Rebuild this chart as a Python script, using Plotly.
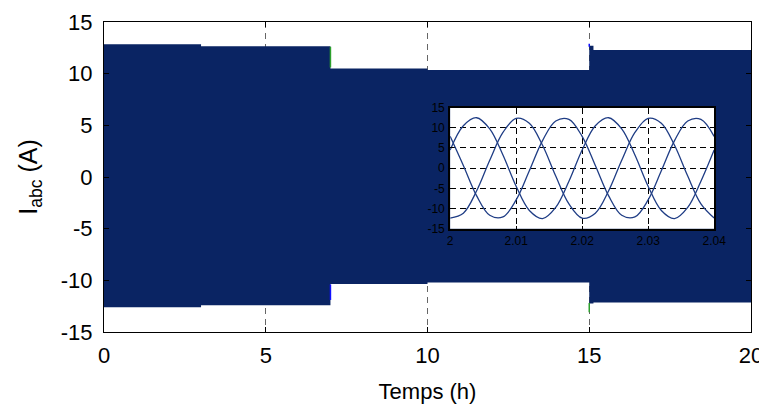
import plotly.graph_objects as go

# ---- main plot: envelope of the three-phase currents (A) per operating segment ----
seg_start = [0, 3, 7, 10, 15, 15.13]
seg_end = [3, 7, 10, 15, 15.13, 20]
env_upper = [12.85, 12.65, 10.5, 10.35, 12.7, 12.3]
env_lower = [-12.6, -12.4, -10.35, -10.2, -12.25, -12.15]

# small transients visible at the switching instants
trans_green_x = [[7, 7], [15, 15]]
trans_green_y = [[12.6, 10.6], [-12.2, -13.1]]
trans_blue_x = [[7, 7], [15, 15]]
trans_blue_y = [[-10.4, -11.9], [12.6, 12.9]]

# ---- inset: three-phase currents between t = 2.00 and 2.04 ----
inset_t = [2.000, 2.002, 2.004, 2.006, 2.008, 2.010, 2.012, 2.014, 2.016, 2.018,
           2.020, 2.022, 2.024, 2.026, 2.028, 2.030, 2.032, 2.034, 2.036, 2.038, 2.040]
phase_a = [-12.35, -11.14, -5.67, 1.96, 8.84, 12.35, 11.14, 5.67, -1.96, -8.84,
           -12.35, -11.14, -5.67, 1.96, 8.84, 12.35, 11.14, 5.67, -1.96, -8.84, -12.35]
phase_b = [7.87, 0.65, -6.81, -11.67, -12.07, -7.87, -0.65, 6.81, 11.67, 12.07,
           7.87, 0.65, -6.81, -11.67, -12.07, -7.87, -0.65, 6.81, 11.67, 12.07, 7.87]
phase_c = [4.48, 10.48, 12.48, 9.71, 3.24, -4.48, -10.48, -12.48, -9.71, -3.24,
           4.48, 10.48, 12.48, 9.71, 3.24, -4.48, -10.48, -12.48, -9.71, -3.24, 4.48]

main_xticks = [0, 5, 10, 15, 20]
main_xticktext = ["0", "5", "10", "15", "20"]
main_yticks = [-15, -10, -5, 0, 5, 10, 15]
main_yticktext = ["-15", "-10", "-5", "0", "5", "10", "15"]
inset_xticks = [2, 2.01, 2.02, 2.03, 2.04]
inset_xticktext = ["2", "2.01", "2.02", "2.03", "2.04"]
inset_yticks = [-15, -10, -5, 0, 5, 10, 15]
inset_yticktext = ["-15", "-10", "-5", "0", "5", "10", "15"]

BAND = "#0a2463"
WAVE = "#1f3d85"

# build the envelope polygon from the segment arrays
poly_x, poly_y = [], []
for s, e, u in zip(seg_start, seg_end, env_upper):
    poly_x += [s, e]
    poly_y += [u, u]
for s, e, l in reversed(list(zip(seg_start, seg_end, env_lower))):
    poly_x += [e, s]
    poly_y += [l, l]

fig = go.Figure()
fig.add_trace(go.Scatter(x=poly_x, y=poly_y, fill="toself", fillcolor=BAND,
                         mode="lines", line=dict(width=0, color=BAND),
                         hoverinfo="skip", showlegend=False))
for xs, ys in zip(trans_green_x, trans_green_y):
    fig.add_trace(go.Scatter(x=xs, y=ys, mode="lines", line=dict(color="#2ca02c", width=1.5),
                             showlegend=False))
for xs, ys in zip(trans_blue_x, trans_blue_y):
    fig.add_trace(go.Scatter(x=xs, y=ys, mode="lines", line=dict(color="#1010ff", width=1.5),
                             showlegend=False))

for ph in (phase_a, phase_b, phase_c):
    fig.add_trace(go.Scatter(x=inset_t, y=ph, mode="lines", xaxis="x2", yaxis="y2",
                             line=dict(color=WAVE, width=1.3, shape="spline", smoothing=1.0),
                             showlegend=False))

font_main = "Liberation Sans, Arial, sans-serif"
fig.update_layout(
    width=767, height=415,
    margin=dict(l=96, r=24, t=14, b=91),
    paper_bgcolor="white", plot_bgcolor="white",
    font=dict(family=font_main, color="black"),
    showlegend=False,
    xaxis=dict(range=[0, 20], tickvals=main_xticks, ticktext=main_xticktext,
               showgrid=True, automargin=False,
               gridcolor="#666666", griddash="6px,5px", gridwidth=1,
               showline=True, linecolor="black", linewidth=1, mirror="ticks",
               ticks="inside", ticklen=5, tickcolor="black",
               tickfont=dict(size=22), zeroline=False, ticklabelstandoff=4,
               title=dict(text="Temps (h)", font=dict(size=22), standoff=16)),
    yaxis=dict(range=[-15, 15], tickvals=main_yticks, ticktext=main_yticktext,
               showgrid=True, automargin=False,
               gridcolor="#666666", griddash="6px,5px", gridwidth=1,
               showline=True, linecolor="black", linewidth=1, mirror="ticks",
               ticks="inside", ticklen=5, tickcolor="black",
               tickfont=dict(size=22), zeroline=False, ticklabelstandoff=6,
               title=dict(text="I<sub>abc</sub> (A)", font=dict(size=25), standoff=16)),
    xaxis2=dict(domain=[0.535, 0.943], anchor="y2", range=[2, 2.04],
                tickvals=inset_xticks, ticktext=inset_xticktext, automargin=False,
                showgrid=True, gridcolor="black", griddash="6px,4px", gridwidth=1,
                showline=True, linecolor="black", linewidth=2, mirror="ticks",
                ticks="inside", ticklen=3, tickcolor="black",
                tickfont=dict(size=12), zeroline=False, ticklabelstandoff=0),
    yaxis2=dict(domain=[0.333, 0.724], anchor="x2", range=[-15, 15],
                tickvals=inset_yticks, ticktext=inset_yticktext, automargin=False,
                showgrid=True, gridcolor="black", griddash="6px,4px", gridwidth=1,
                showline=True, linecolor="black", linewidth=2, mirror="ticks",
                ticks="inside", ticklen=3, tickcolor="black",
                tickfont=dict(size=12), zeroline=False, ticklabelstandoff=1),
)

fig.write_html("out.html")
